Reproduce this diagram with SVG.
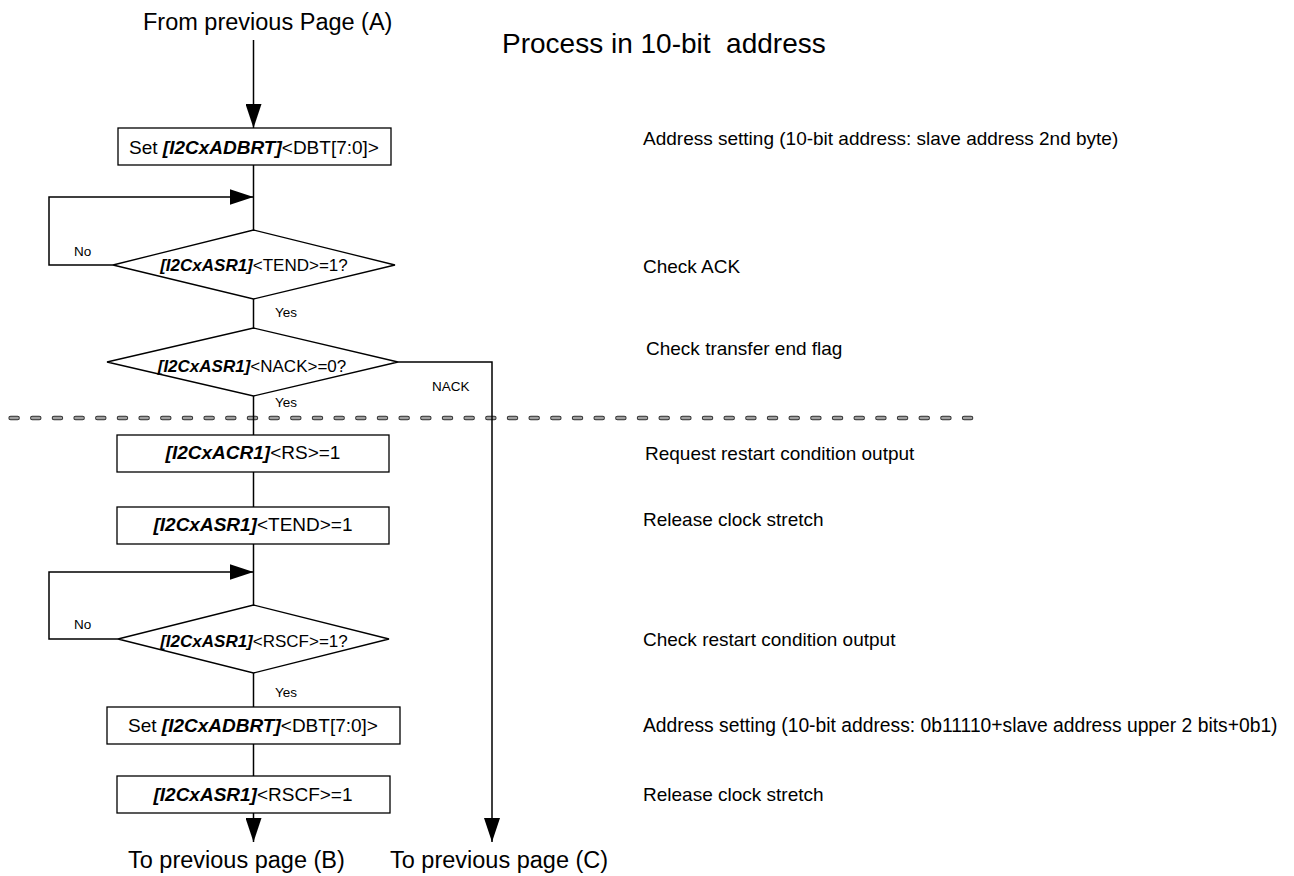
<svg xmlns="http://www.w3.org/2000/svg" width="1294" height="876" viewBox="0 0 1294 876">
<style>
text{font-family:"Liberation Sans",Arial,sans-serif;fill:#000}
.box{fill:#fff;stroke:#000;stroke-width:1.3}
.ln{fill:none;stroke:#000;stroke-width:1.5}
.bt{font-size:19px;text-anchor:middle}
.dt{font-size:17px;text-anchor:middle}
.side{font-size:19px}
.lbl{font-size:13.5px}
.big{font-size:23.5px}
.r{font-weight:bold;font-style:italic}
</style>
<defs>
<marker id="ah" markerUnits="userSpaceOnUse" markerWidth="24" markerHeight="16" refX="24" refY="8" orient="auto">
<path d="M0,0 L24,8 L0,16 z" fill="#000"/>
</marker>
</defs>
<text x="502" y="53" style="font-size:28px" xml:space="preserve">Process in 10-bit  address</text>
<text x="143" y="30" class="big">From previous Page (A)</text>
<text x="128" y="868" class="big">To previous page (B)</text>
<text x="390" y="868" class="big">To previous page (C)</text>
<g id="separator">
<path d="M10.6 418 H975" fill="none" stroke="#333" stroke-width="4.5" stroke-linecap="round" stroke-dasharray="7 14.67"/>
<path d="M10.6 418 H975" fill="none" stroke="#a0a0a0" stroke-width="2.5" stroke-linecap="round" stroke-dasharray="7 14.67"/>
</g>
<g id="connectors">
<path class="ln" d="M253.5 40 V128" marker-end="url(#ah)"/>
<path class="ln" d="M253.5 165 V230"/>
<path class="ln" d="M113 265 H49 V197 H253.5" marker-end="url(#ah)"/>
<path class="ln" d="M253.5 299 V328"/>
<path class="ln" d="M253.5 396 V435"/>
<path class="ln" d="M398 362 H492 V842" marker-end="url(#ah)"/>
<path class="ln" d="M253.5 472 V507"/>
<path class="ln" d="M253.5 544 V605"/>
<path class="ln" d="M118 639 H49 V572 H253.5" marker-end="url(#ah)"/>
<path class="ln" d="M253.5 673 V707"/>
<path class="ln" d="M253.5 744 V776"/>
<path class="ln" d="M253.5 813 V842" marker-end="url(#ah)"/>
<text x="74" y="256" class="lbl">No</text>
<text x="275" y="317" class="lbl">Yes</text>
<text x="275" y="407" class="lbl">Yes</text>
<text x="432" y="391" class="lbl">NACK</text>
<text x="74" y="629" class="lbl">No</text>
<text x="275" y="697" class="lbl">Yes</text>
</g>
<g id="n1">
<rect class="box" x="118" y="128" width="273" height="37"/>
<text x="254" y="154" class="bt">Set <tspan class="r">[I2CxADBRT]</tspan>&lt;DBT[7:0]&gt;</text>
</g>
<g id="n2">
<polygon class="box" points="253.5,230 395,265 253.5,299 113,265"/>
<text x="254" y="271" class="dt"><tspan class="r">[I2CxASR1]</tspan>&lt;TEND&gt;=1?</text>
</g>
<g id="n3">
<polygon class="box" points="253.5,328 398,362 253.5,396 107,362"/>
<text x="252" y="372" class="dt"><tspan class="r">[I2CxASR1]</tspan>&lt;NACK&gt;=0?</text>
</g>
<g id="n4">
<rect class="box" x="117" y="435" width="272" height="37"/>
<text x="253" y="459" class="bt"><tspan class="r">[I2CxACR1]</tspan>&lt;RS&gt;=1</text>
</g>
<g id="n5">
<rect class="box" x="117" y="507" width="272" height="37"/>
<text x="253" y="531" class="bt"><tspan class="r">[I2CxASR1]</tspan>&lt;TEND&gt;=1</text>
</g>
<g id="n6">
<polygon class="box" points="253.5,605 389,639 253.5,673 118,639"/>
<text x="254" y="647" class="dt"><tspan class="r">[I2CxASR1]</tspan>&lt;RSCF&gt;=1?</text>
</g>
<g id="n7">
<rect class="box" x="107" y="707" width="293" height="37"/>
<text x="253" y="732" class="bt">Set <tspan class="r">[I2CxADBRT]</tspan>&lt;DBT[7:0]&gt;</text>
</g>
<g id="n8">
<rect class="box" x="117" y="776" width="273" height="37"/>
<text x="253" y="801" class="bt"><tspan class="r">[I2CxASR1]</tspan>&lt;RSCF&gt;=1</text>
</g>
<g id="notes">
<text x="643" y="145" class="side">Address setting (10-bit address: slave address 2nd byte)</text>
<text x="643" y="273" class="side">Check ACK</text>
<text x="646" y="355" class="side">Check transfer end flag</text>
<text x="645" y="460" class="side">Request restart condition output</text>
<text x="643" y="526" class="side">Release clock stretch</text>
<text x="643" y="646" class="side">Check restart condition output</text>
<text x="643" y="732" class="side" style="font-size:19.3px">Address setting (10-bit address: 0b11110+slave address upper 2 bits+0b1)</text>
<text x="643" y="801" class="side">Release clock stretch</text>
</g>
</svg>
